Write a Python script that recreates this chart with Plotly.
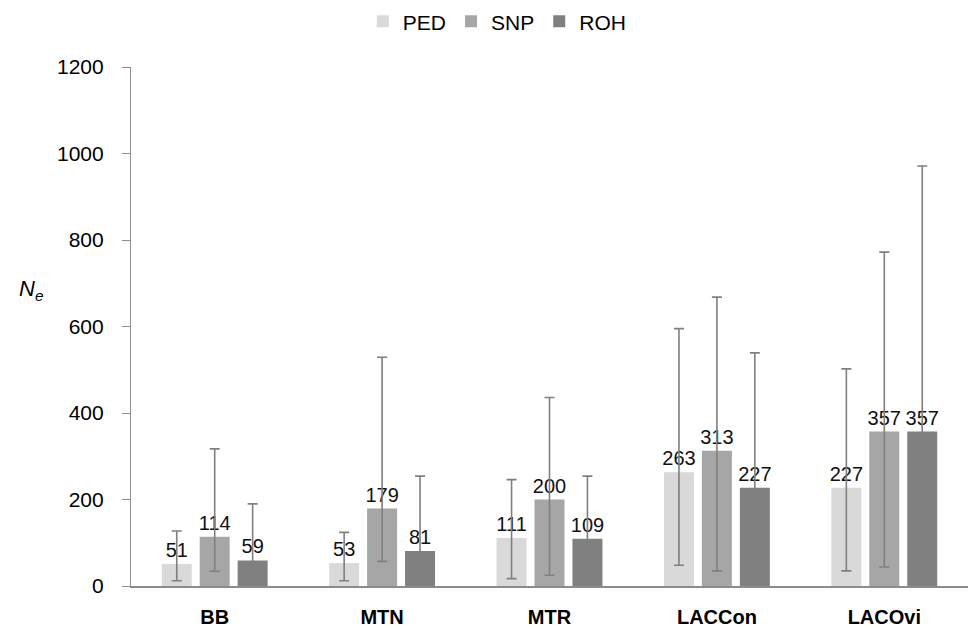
import plotly.graph_objects as go

categories = ["BB", "MTN", "MTR", "LACCon", "LACOvi"]
series_names = ["PED", "SNP", "ROH"]
ped = [51, 53, 111, 263, 227]
snp = [114, 179, 200, 313, 357]
roh = [59, 81, 109, 227, 357]
ped_hi = [127, 124, 246, 595, 502]
ped_lo = [12, 12, 17, 48, 35]
snp_hi = [317, 529, 436, 668, 772]
snp_lo = [34, 57, 25, 35, 44]
roh_hi = [190, 254, 254, 539, 971]
roh_lo = [20, 30, 23, 48, 106]
y_ticks = [0, 200, 400, 600, 800, 1000, 1200]

colors = ["#d9d9d9", "#a6a6a6", "#808080"]
FONT = "Liberation Sans, Arial, sans-serif"

fig = go.Figure()
for name, vals, hi, lo, col in zip(series_names, [ped, snp, roh],
                                    [ped_hi, snp_hi, roh_hi],
                                    [ped_lo, snp_lo, roh_lo], colors):
    fig.add_trace(go.Bar(
        x=categories, y=vals, name=name,
        marker=dict(color=col, line=dict(width=0)),
        text=[str(v) for v in vals], textposition="outside",
        textfont=dict(size=20, color="#111111", family=FONT),
        constraintext="none",
        cliponaxis=False,
        error_y=dict(type="data", symmetric=False,
                     array=[h - v for h, v in zip(hi, vals)],
                     arrayminus=[v - l for v, l in zip(vals, lo)],
                     color="#7f7f7f", thickness=1.6, width=5),
    ))

fig.update_layout(
    width=969, height=621,
    paper_bgcolor="white", plot_bgcolor="white",
    margin=dict(l=123, r=9, t=59, b=43),
    barmode="group", bargap=0.32, bargroupgap=0.21,
    font=dict(family=FONT, size=20, color="#000000"),
    showlegend=True,
    legend=dict(orientation="h", x=0.505, xanchor="center", xref="container",
                y=0.978, yanchor="middle", yref="container",
                font=dict(size=21, family=FONT), itemwidth=30,
                traceorder="normal"),
    xaxis=dict(showline=True, linecolor="#8c8c8c", linewidth=1.5,
               ticks="", showgrid=False, automargin=False,
               tickfont=dict(size=20, family=FONT, weight="bold"),
               ticklabelstandoff=12,
               fixedrange=True),
    yaxis=dict(range=[0, 1200], tickvals=y_ticks, showline=True,
               linecolor="#8c8c8c", linewidth=1.2, ticks="outside",
               ticklen=8, tickcolor="#8c8c8c", showgrid=False,
               zeroline=False, tickfont=dict(size=21, family=FONT),
               ticklabelstandoff=14, automargin=False),
    annotations=[dict(text="<i>N</i><sub><i>e</i></sub>", xref="paper", yref="y",
                      x=0, y=684, xshift=-100, showarrow=False,
                      font=dict(size=22, family=FONT), xanchor="center")],
)

fig.write_html("out.html")
